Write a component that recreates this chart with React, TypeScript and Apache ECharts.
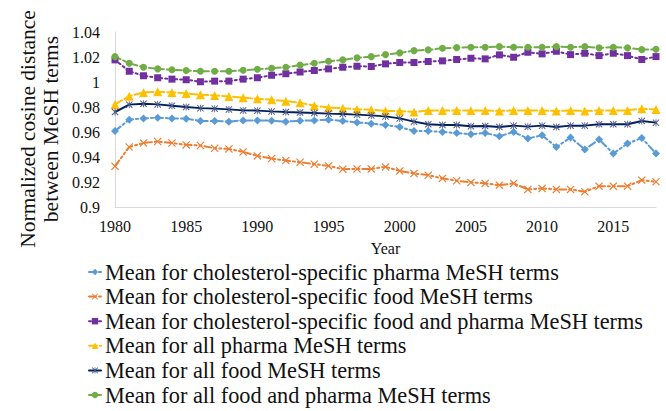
import React, { useEffect, useRef } from "react";
import * as echarts from "echarts";

const years: string[] = [];
for (let y = 1980; y <= 2018; y++) years.push(String(y));

const cholPharma = [
  0.9608, 0.9699, 0.9709, 0.9715, 0.9709, 0.9707, 0.9688, 0.9688, 0.9683, 0.9693,
  0.9693, 0.9691, 0.9683, 0.969, 0.9693, 0.9699, 0.9688, 0.9677, 0.9667, 0.9656,
  0.964, 0.9608, 0.9608, 0.96, 0.9592, 0.9582, 0.9592, 0.9566, 0.96, 0.9548,
  0.9574, 0.948, 0.9556, 0.946, 0.954, 0.9428, 0.9508, 0.9552, 0.9428,
];
const cholFood = [
  0.9327, 0.948, 0.9512, 0.9524, 0.9512, 0.9497, 0.9492, 0.947, 0.9465, 0.9441,
  0.9409, 0.9388, 0.9372, 0.9358, 0.9343, 0.9329, 0.9303, 0.9305, 0.9305, 0.9321,
  0.9289, 0.9269, 0.9255, 0.9229, 0.921, 0.9197, 0.9189, 0.9175, 0.9189, 0.9141,
  0.9149, 0.9141, 0.9141, 0.9122, 0.9167, 0.9167, 0.9167, 0.9215, 0.9202,
];
const cholFoodPharma = [
  1.0177, 1.0086, 1.005, 1.0034, 1.0023, 1.0018, 1.0002, 1.0007, 1.0007, 1.0023,
  1.0034, 1.0054, 1.0066, 1.008, 1.0092, 1.0105, 1.0118, 1.0126, 1.0124, 1.0145,
  1.0156, 1.0156, 1.0164, 1.0169, 1.018, 1.019, 1.0185, 1.0217, 1.0198, 1.0238,
  1.0225, 1.0246, 1.0219, 1.023, 1.0211, 1.023, 1.0211, 1.018, 1.0203,
];
const allPharma = [
  0.9821, 0.9887, 0.9917, 0.9922, 0.9917, 0.9909, 0.9898, 0.9893, 0.9885, 0.9874,
  0.9866, 0.9858, 0.9847, 0.9834, 0.981, 0.9795, 0.9791, 0.9781, 0.9779, 0.9768,
  0.9768, 0.976, 0.9773, 0.9773, 0.9773, 0.9773, 0.9773, 0.9768, 0.9773, 0.9773,
  0.9773, 0.9768, 0.9773, 0.9768, 0.9773, 0.9773, 0.9773, 0.9787, 0.978,
];
const allFood = [
  0.976, 0.9819, 0.9826, 0.9821, 0.981, 0.98, 0.9791, 0.9787, 0.9781, 0.9773,
  0.9771, 0.9765, 0.976, 0.9756, 0.9752, 0.9747, 0.9744, 0.9739, 0.9733, 0.9725,
  0.9709, 0.9683, 0.9662, 0.9656, 0.9656, 0.9646, 0.9648, 0.964, 0.9651, 0.9643,
  0.9651, 0.964, 0.9651, 0.9651, 0.9662, 0.9662, 0.9662, 0.9688, 0.9675,
];
const allFoodPharma = [
  1.0203, 1.015, 1.0118, 1.0105, 1.0098, 1.0092, 1.0086, 1.0086, 1.0086, 1.0094,
  1.0102, 1.011, 1.0118, 1.0135, 1.015, 1.0166, 1.0177, 1.0193, 1.0203, 1.0219,
  1.0233, 1.0251, 1.0257, 1.027, 1.0275, 1.0278, 1.0278, 1.0283, 1.0278, 1.0278,
  1.0278, 1.0283, 1.0278, 1.0283, 1.0273, 1.0278, 1.0273, 1.0259, 1.0262,
];

const seriesNames = [
  "Mean for cholesterol-specific pharma MeSH terms",
  "Mean for cholesterol-specific food MeSH terms",
  "Mean for cholesterol-specific food and pharma MeSH terms",
  "Mean for all pharma MeSH terms",
  "Mean for all food MeSH terms",
  "Mean for all food and pharma MeSH terms",
];

const FONT = "Liberation Serif";
const X_PATH = "path://M1,0L5,4L9,0L10,1L6,5L10,9L9,10L5,6L1,10L0,9L4,5L0,1Z";
const STAR_PATH =
  "path://M1,0L5,4L9,0L10,1L6,5L10,9L9,10L5,6L1,10L0,9L4,5L0,1Z M4.4,0L5.6,0L5.6,10L4.4,10Z";

export default function App() {
  const ref = useRef<HTMLDivElement>(null);
  useEffect(() => {
    document.body.style.margin = "0";
    const chart = echarts.init(ref.current!, null, { renderer: "svg" });
    const mk = (
      name: string,
      data: number[],
      color: string,
      symbol: string,
      symbolSize: number,
      lineType: any,
      markerColor?: string,
      width = 2
    ) => ({
      name,
      type: "line",
      data,
      symbol,
      symbolSize,
      showSymbol: true,
      itemStyle: { color: markerColor || color },
      lineStyle: { color, width, type: lineType, cap: "round" },
      z: 2,
    });
    chart.setOption({
      animation: false,
      textStyle: { fontFamily: FONT },
      grid: { left: 115, right: 10, top: 32, bottom: 204, containLabel: false },
      legend: {
        orient: "vertical",
        left: 88,
        top: 261,
        height: 150,
        padding: 0,
        itemGap: 2.6,
        itemWidth: 12,
        itemHeight: 8,
        textStyle: { fontFamily: FONT, fontSize: 22.3, color: "#111", lineHeight: 22, padding: [0, 0, 0, -1] },
        data: seriesNames,
      },
      xAxis: {
        type: "category",
        data: years,
        boundaryGap: false,
        name: "Year",
        nameLocation: "middle",
        nameGap: 33,
        nameTextStyle: { fontFamily: FONT, fontSize: 16, color: "#111" },
        axisLine: { lineStyle: { color: "#d9d9d9", width: 1 } },
        axisTick: { show: false },
        axisLabel: { interval: 4, fontFamily: FONT, fontSize: 16, color: "#111", margin: 11 },
        splitLine: { show: false },
      },
      yAxis: {
        type: "value",
        min: 0.9,
        max: 1.04,
        interval: 0.02,
        axisLine: { show: true, lineStyle: { color: "#d9d9d9", width: 1 } },
        axisTick: { show: false },
        axisLabel: { fontFamily: FONT, fontSize: 16, color: "#111", margin: 15 },
        splitLine: { show: false },
      },
      graphic: [
        {
          type: "text",
          x: 39,
          y: 129,
          rotation: Math.PI / 2,
          style: {
            text: "Normalized cosine distance\nbetween MeSH terms",
            font: `21.5px ${FONT}`,
            fill: "#111",
            align: "center",
            verticalAlign: "middle",
            lineHeight: 23,
          },
        },
      ],
      series: [
        mk(seriesNames[0], cholPharma, "#5B9BD5", "diamond", 8, [7, 3, 2, 3]),
        mk(seriesNames[1], cholFood, "#ED7D31", X_PATH, 8, [7, 3, 2, 3, 2, 3]),
        mk(seriesNames[2], cholFoodPharma, "#7030A0", "rect", 7, [2, 3]),
        mk(seriesNames[3], allPharma, "#FFC000", "triangle", 9, [8, 3]),
        mk(seriesNames[4], allFood, "#002060", STAR_PATH, 7, "solid", "#505a85"),
        mk(seriesNames[5], allFoodPharma, "#70AD47", "circle", 7, [6, 3]),
      ],
    });
    return () => chart.dispose();
  }, []);
  return (
    <div
      ref={ref}
      style={{ position: "absolute", left: 0, top: 0, width: 666, height: 411, background: "#fff" }}
    />
  );
}
